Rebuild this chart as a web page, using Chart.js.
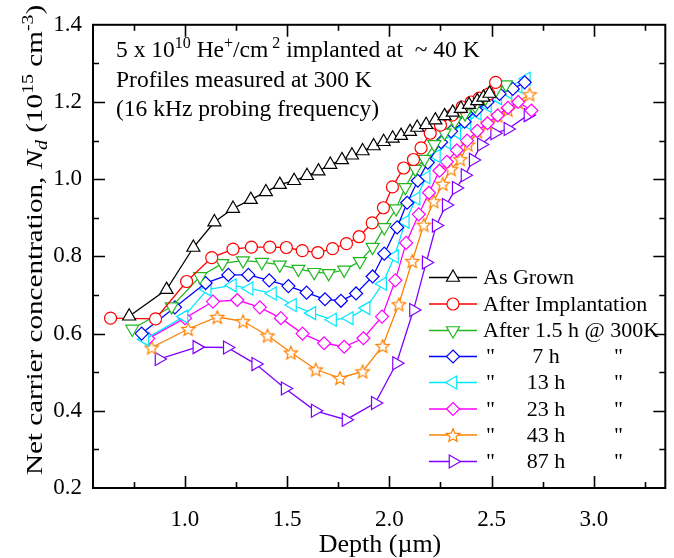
<!DOCTYPE html>
<html>
<head>
<meta charset="utf-8">
<script src="https://cdn.jsdelivr.net/npm/chart.js@4.4.1/dist/chart.umd.min.js"></script>
<style>
  html, body { margin: 0; padding: 0; background: #fff; }
  canvas { display: block; }
</style>
</head>
<body>
<canvas id="chart" width="674" height="558"></canvas>
<script>
// Net carrier concentration profiles (10^15 cm^-3) vs depth (um)
const seriesLabels = ['As Grown', 'After Implantation', 'After 1.5 h @ 300K', '7 h', '13 h', '23 h', '43 h', '87 h'];

const grownX = [0.727, 0.910, 1.041, 1.144, 1.235, 1.322, 1.396, 1.464, 1.534, 1.597, 1.653, 1.711, 1.768, 1.817, 1.869, 1.923, 1.972, 2.016, 2.057, 2.101, 2.136, 2.180, 2.225, 2.270, 2.31, 2.35, 2.39, 2.43, 2.46, 2.49];
const grownY = [0.645, 0.714, 0.823, 0.889, 0.924, 0.947, 0.967, 0.986, 0.996, 1.009, 1.021, 1.038, 1.050, 1.062, 1.073, 1.086, 1.097, 1.106, 1.113, 1.123, 1.134, 1.141, 1.153, 1.164, 1.173, 1.183, 1.193, 1.203, 1.212, 1.222];

const implX = [0.636, 0.856, 1.008, 1.131, 1.235, 1.325, 1.415, 1.496, 1.574, 1.650, 1.722, 1.790, 1.852, 1.916, 1.971, 2.015, 2.070, 2.118, 2.155, 2.20, 2.25, 2.307, 2.356, 2.40, 2.44, 2.487, 2.52];
const implY = [0.640, 0.638, 0.735, 0.797, 0.819, 0.824, 0.824, 0.823, 0.815, 0.810, 0.820, 0.833, 0.851, 0.887, 0.926, 0.980, 1.029, 1.051, 1.081, 1.119, 1.14, 1.166, 1.187, 1.20, 1.21, 1.221, 1.251];

const h15X = [0.742, 0.935, 1.074, 1.183, 1.284, 1.376, 1.464, 1.555, 1.632, 1.703, 1.779, 1.856, 1.918, 1.975, 2.033, 2.078, 2.127, 2.172, 2.22, 2.27, 2.32, 2.37, 2.42, 2.47, 2.52, 2.57];
const h15Y = [0.612, 0.670, 0.748, 0.782, 0.789, 0.785, 0.778, 0.767, 0.759, 0.756, 0.765, 0.787, 0.824, 0.875, 0.924, 0.979, 1.026, 1.052, 1.09, 1.12, 1.15, 1.17, 1.19, 1.21, 1.23, 1.245];

const h7X = [0.788, 0.951, 1.101, 1.212, 1.310, 1.412, 1.506, 1.595, 1.685, 1.763, 1.837, 1.918, 1.975, 2.038, 2.087, 2.139, 2.188, 2.253, 2.302, 2.368, 2.425, 2.48, 2.539, 2.604, 2.662];
const h7Y = [0.600, 0.668, 0.731, 0.752, 0.752, 0.738, 0.723, 0.706, 0.689, 0.685, 0.704, 0.748, 0.807, 0.875, 0.939, 0.996, 1.043, 1.096, 1.124, 1.149, 1.179, 1.20, 1.221, 1.234, 1.251];

const h13X = [0.804, 0.995, 1.109, 1.232, 1.314, 1.428, 1.526, 1.621, 1.722, 1.804, 1.886, 1.967, 2.025, 2.078, 2.131, 2.18, 2.23, 2.28, 2.33, 2.38, 2.43, 2.48, 2.53, 2.58, 2.63, 2.67];
const h13Y = [0.585, 0.644, 0.714, 0.725, 0.717, 0.704, 0.674, 0.653, 0.636, 0.640, 0.666, 0.729, 0.800, 0.890, 0.950, 1.005, 1.06, 1.095, 1.12, 1.145, 1.17, 1.19, 1.21, 1.225, 1.24, 1.26];

const h23X = [0.82, 1.0, 1.137, 1.256, 1.366, 1.469, 1.575, 1.681, 1.779, 1.873, 1.964, 2.029, 2.082, 2.144, 2.194, 2.245, 2.281, 2.33, 2.38, 2.43, 2.48, 2.53, 2.58, 2.63, 2.695];
const h23Y = [0.587, 0.640, 0.683, 0.687, 0.668, 0.640, 0.600, 0.575, 0.566, 0.588, 0.644, 0.738, 0.835, 0.909, 0.965, 1.022, 1.045, 1.075, 1.10, 1.125, 1.145, 1.165, 1.185, 1.20, 1.178];

const h43X = [0.837, 1.016, 1.158, 1.284, 1.404, 1.518, 1.640, 1.758, 1.869, 1.967, 2.046, 2.112, 2.168, 2.217, 2.261, 2.302, 2.347, 2.385, 2.43, 2.48, 2.53, 2.58, 2.63, 2.686];
const h43Y = [0.564, 0.612, 0.643, 0.632, 0.595, 0.551, 0.507, 0.485, 0.502, 0.568, 0.676, 0.788, 0.882, 0.943, 0.988, 1.026, 1.052, 1.09, 1.124, 1.145, 1.165, 1.18, 1.20, 1.22];

const h87X = [0.873, 1.058, 1.207, 1.346, 1.490, 1.637, 1.788, 1.931, 2.035, 2.118, 2.180, 2.229, 2.278, 2.327, 2.37, 2.41, 2.45, 2.515, 2.58, 2.678];
const h87Y = [0.534, 0.565, 0.564, 0.521, 0.458, 0.400, 0.377, 0.420, 0.523, 0.661, 0.784, 0.880, 0.933, 0.977, 1.01, 1.05, 1.09, 1.119, 1.13, 1.166];

const xTicks = [1.0, 1.5, 2.0, 2.5, 3.0];
const yTicks = [0.2, 0.4, 0.6, 0.8, 1.0, 1.2, 1.4];

const FONT = '"Liberation Serif", "Times New Roman", serif';

function makeStar(color, r) {
  const s = Math.ceil(r * 2 + 4);
  const c = document.createElement('canvas');
  c.width = s; c.height = s;
  const g = c.getContext('2d');
  g.translate(s / 2, s / 2 + r * 0.1);
  g.beginPath();
  for (let i = 0; i < 10; i++) {
    const a = -Math.PI / 2 + i * Math.PI / 5;
    const rr = i % 2 ? r * 0.45 : r;
    g.lineTo(Math.cos(a) * rr, Math.sin(a) * rr);
  }
  g.closePath();
  g.fillStyle = '#fff';
  g.fill();
  g.strokeStyle = color;
  g.lineWidth = 1.2;
  g.stroke();
  return c;
}

const colors = ['#000000', '#ff0000', '#22b822', '#0000ff', '#00e8ff', '#ff00ff', '#ff8000', '#8000ff'];
const starImg = makeStar(colors[6], 7);
const styles = [
  { pointStyle: 'triangle', rotation: 0, radius: 7.5 },
  { pointStyle: 'circle', rotation: 0, radius: 6 },
  { pointStyle: 'triangle', rotation: 180, radius: 7.5 },
  { pointStyle: 'rectRot', rotation: 0, radius: 6.5 },
  { pointStyle: 'triangle', rotation: 270, radius: 7.5 },
  { pointStyle: 'rectRot', rotation: 0, radius: 6.5 },
  { pointStyle: starImg, rotation: 0, radius: 7 },
  { pointStyle: 'triangle', rotation: 90, radius: 7.5 }
];

const xs = [grownX, implX, h15X, h7X, h13X, h23X, h43X, h87X];
const ys = [grownY, implY, h15Y, h7Y, h13Y, h23Y, h43Y, h87Y];

const datasets = seriesLabels.map((label, i) => ({
  label,
  data: xs[i].map((x, j) => ({ x, y: ys[i][j] })),
  borderColor: colors[i],
  backgroundColor: '#ffffff',
  borderWidth: 1.3,
  pointStyle: styles[i].pointStyle,
  rotation: styles[i].rotation,
  pointRadius: styles[i].radius,
  pointBorderColor: colors[i],
  pointBackgroundColor: '#ffffff',
  pointBorderWidth: 1.2,
  tension: 0,
  fill: false
}));

// rich text: parts with optional sup / sub / italic, size = base font size
function setFont(ctx, p, size) {
  const small = p.sup || p.sub;
  ctx.font = (p.italic ? 'italic ' : '') + (small ? Math.round(size * 0.66) : size) + 'px ' + FONT;
}
function drawRich(ctx, parts, x, y, size) {
  let cx = x;
  for (const p of parts) {
    setFont(ctx, p, size);
    const dy = p.sup ? -size * 0.4 : (p.sub ? size * 0.22 : 0);
    ctx.fillText(p.t, cx, y + dy);
    cx += ctx.measureText(p.t).width;
  }
  return cx - x;
}
function richWidth(ctx, parts, size) {
  let w = 0;
  for (const p of parts) {
    setFont(ctx, p, size);
    w += ctx.measureText(p.t).width;
  }
  return w;
}

function marker(ctx, i, x, y) {
  const st = styles[i];
  ctx.save();
  ctx.strokeStyle = colors[i];
  ctx.fillStyle = '#fff';
  ctx.lineWidth = 1.2;
  if (typeof st.pointStyle !== 'string') {
    ctx.drawImage(st.pointStyle, x - st.pointStyle.width / 2, y - st.pointStyle.height / 2);
    ctx.restore();
    return;
  }
  const r = st.radius;
  const rad = st.rotation * Math.PI / 180;
  ctx.beginPath();
  if (st.pointStyle === 'circle') {
    ctx.arc(x, y, r, 0, Math.PI * 2);
  } else if (st.pointStyle === 'triangle') {
    let a = rad;
    for (let k = 0; k < 3; k++) {
      ctx.lineTo(x + Math.sin(a) * r, y - Math.cos(a) * r);
      a += Math.PI * 2 / 3;
    }
    ctx.closePath();
  } else {
    ctx.moveTo(x, y - r); ctx.lineTo(x + r, y); ctx.lineTo(x, y + r); ctx.lineTo(x - r, y); ctx.closePath();
  }
  ctx.fill();
  ctx.stroke();
  ctx.restore();
}

const decor = {
  id: 'decor',
  afterDraw(chart) {
    const ctx = chart.ctx;
    const a = chart.chartArea;
    const sx = chart.scales.x, sy = chart.scales.y;
    ctx.save();
    ctx.strokeStyle = '#000';
    ctx.fillStyle = '#000';

    // inward ticks on all four sides
    ctx.lineWidth = 1.6;
    ctx.beginPath();
    for (let v = 0.75; v < 3.35; v += 0.25) {
      const px = Math.round(sx.getPixelForValue(v)) + 0.5;
      const major = Math.abs(v * 2 - Math.round(v * 2)) < 1e-6;
      const len = major ? 12 : 6;
      ctx.moveTo(px, a.bottom); ctx.lineTo(px, a.bottom - len);
      ctx.moveTo(px, a.top); ctx.lineTo(px, a.top + len);
    }
    for (let v = 0.3; v < 1.4; v += 0.1) {
      const py = Math.round(sy.getPixelForValue(v)) + 0.5;
      const major = Math.abs(v * 5 - Math.round(v * 5)) < 1e-6;
      const len = major ? 12 : 6;
      ctx.moveTo(a.left, py); ctx.lineTo(a.left + len, py);
      ctx.moveTo(a.right, py); ctx.lineTo(a.right - len, py);
    }
    ctx.stroke();

    // frame
    ctx.lineWidth = 2;
    ctx.strokeRect(a.left, a.top, a.right - a.left, a.bottom - a.top);

    // axis titles
    ctx.textBaseline = 'alphabetic';
    ctx.textAlign = 'left';
    const xParts = [{ t: 'Depth (\u00b5m)' }];
    drawRich(ctx, xParts, 380 - richWidth(ctx, xParts, 26) / 2, 552, 26);

    const yParts = [
      { t: 'Net carrier concentration, ' },
      { t: 'N', italic: true },
      { t: 'd', italic: true, sub: true },
      { t: ' (10' },
      { t: '15', sup: true },
      { t: ' cm' },
      { t: '-3', sup: true },
      { t: ')' }
    ];
    ctx.save();
    ctx.translate(42, 240);
    ctx.rotate(-Math.PI / 2);
    ctx.scale(1.24, 1);
    const yw = richWidth(ctx, yParts, 23.5);
    drawRich(ctx, yParts, -yw / 2, 0, 23.5);
    ctx.restore();

    // annotation
    drawRich(ctx, [
      { t: '5 x 10' }, { t: '10', sup: true }, { t: ' He' }, { t: '+', sup: true },
      { t: '/cm' }, { t: ' 2', sup: true }, { t: ' implanted at  ~ 40 K' }
    ], 116, 57, 23.5);
    drawRich(ctx, [{ t: 'Profiles measured at 300 K' }], 116, 87, 23.5);
    drawRich(ctx, [{ t: '(16 kHz probing frequency)' }], 116, 116, 23.5);

    // legend
    const rowY = [277.5, 304, 330.5, 356.5, 382.5, 409, 435, 461.5];
    ctx.font = '22px ' + FONT;
    ctx.textBaseline = 'middle';
    for (let i = 0; i < 8; i++) {
      const y = rowY[i];
      ctx.strokeStyle = colors[i];
      ctx.lineWidth = 1.3;
      ctx.beginPath();
      ctx.moveTo(429, y); ctx.lineTo(477, y);
      ctx.stroke();
      marker(ctx, i, 453, y);
      ctx.fillStyle = '#000';
      ctx.textAlign = 'left';
      if (i < 3) {
        ctx.fillText(seriesLabels[i], 483, y + 1);
      } else {
        ctx.fillText('"', 486, y + 1);
        ctx.textAlign = 'center';
        ctx.fillText(seriesLabels[i], 546, y + 1);
        ctx.textAlign = 'left';
        ctx.fillText('"', 614, y + 1);
      }
    }
    ctx.restore();
  }
};

new Chart(document.getElementById('chart'), {
  type: 'line',
  data: { datasets },
  options: {
    responsive: false,
    animation: false,
    devicePixelRatio: 1,
    layout: { padding: { left: 0, right: 8, top: 16, bottom: 0 } },
    plugins: { legend: { display: false }, tooltip: { enabled: false } },
    scales: {
      x: {
        type: 'linear',
        min: 0.55,
        max: 3.35,
        grid: { display: false, drawTicks: false },
        border: { display: false },
        afterBuildTicks: (s) => { s.ticks = xTicks.map(v => ({ value: v })); },
        afterFit: (s) => { s.height = 70; },
        ticks: {
          color: '#000',
          padding: 18,
          font: { family: FONT, size: 23 },
          callback: (v) => Number(v).toFixed(1)
        }
      },
      y: {
        type: 'linear',
        min: 0.2,
        max: 1.4,
        grid: { display: false, drawTicks: false },
        border: { display: false },
        afterBuildTicks: (s) => { s.ticks = yTicks.map(v => ({ value: v })); },
        afterFit: (s) => { s.width = 93; },
        ticks: {
          color: '#000',
          padding: 11,
          font: { family: FONT, size: 23 },
          callback: (v) => Number(v).toFixed(1)
        }
      }
    }
  },
  plugins: [decor]
});
</script>
</body>
</html>
